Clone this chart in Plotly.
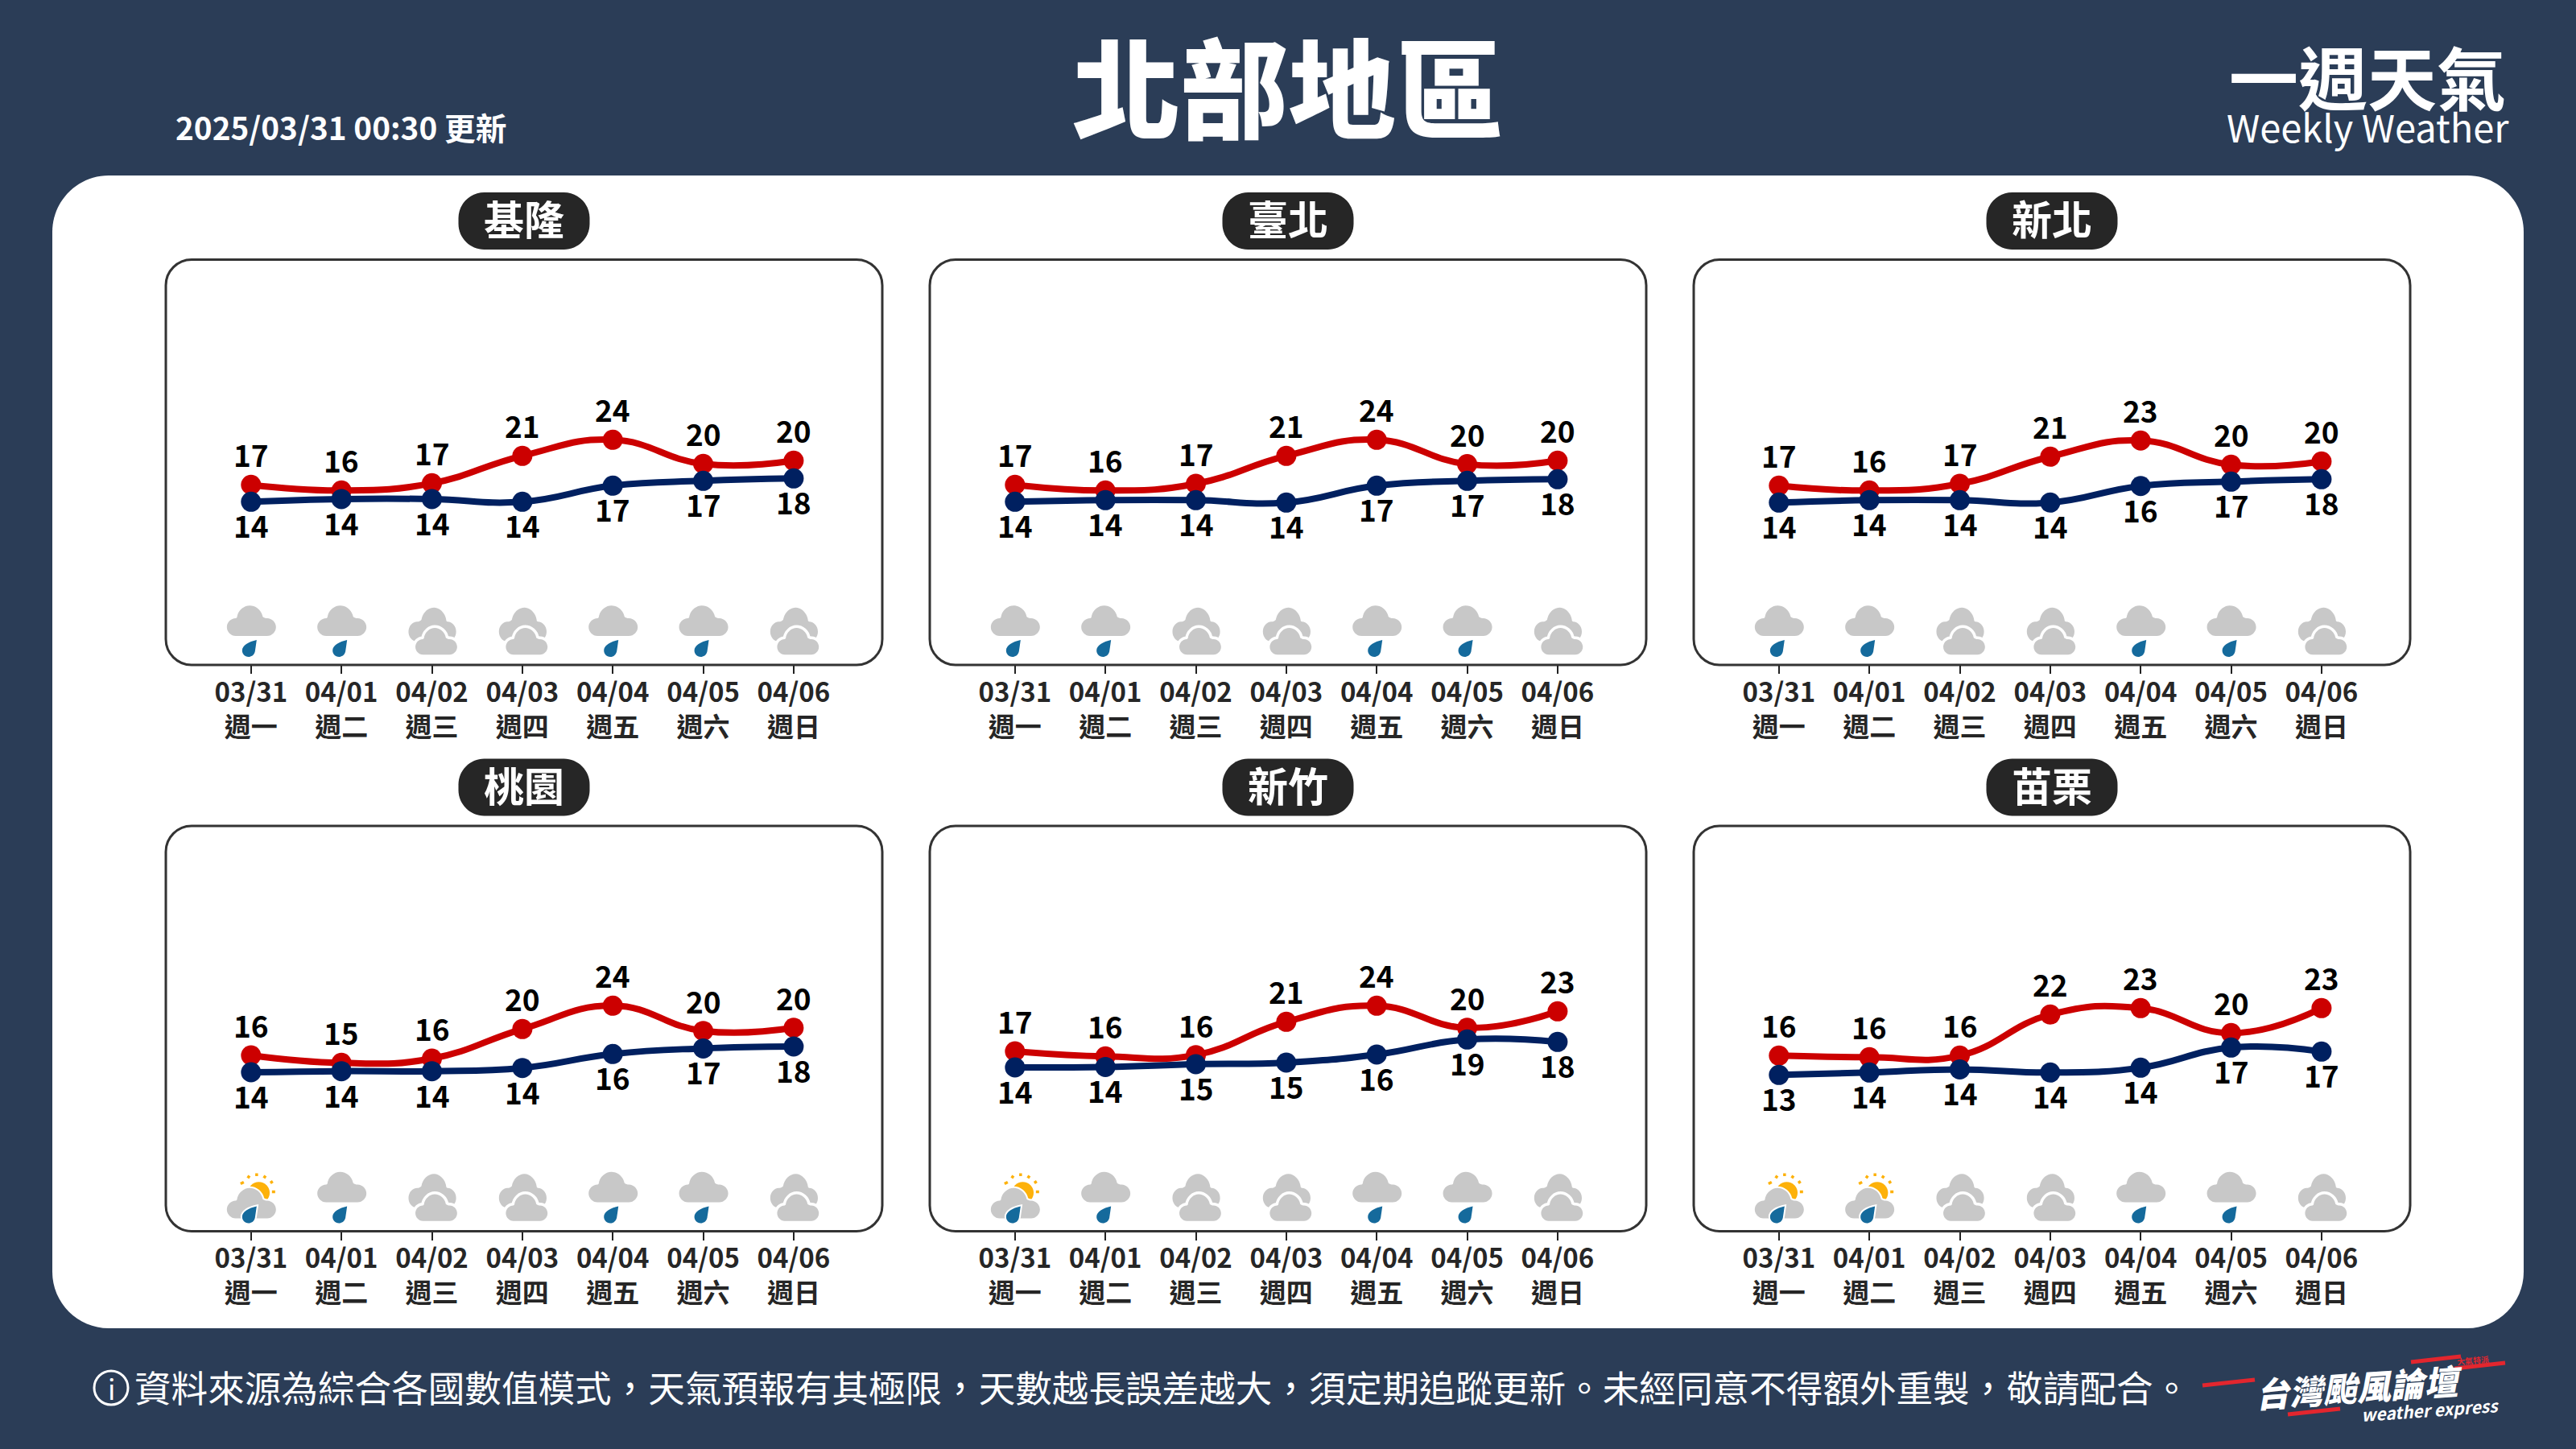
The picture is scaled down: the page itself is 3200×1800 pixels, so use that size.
import plotly.graph_objects as go

W, H = 3200, 1800
FONT = "Noto Sans CJK TC"

# ---------- data ----------
dates = ["03/31", "04/01", "04/02", "04/03", "04/04", "04/05", "04/06"]
weekdays = ["週一", "週二", "週三", "週四", "週五", "週六", "週日"]
regions = ["基隆", "臺北", "新北", "桃園", "新竹", "苗栗"]

high_keelung = [16.68, 15.81, 16.92, 21.12, 23.59, 19.89, 20.38]
low_keelung = [14.08, 14.50, 14.50, 14.08, 16.55, 17.29, 17.66]
high_taipei = [16.68, 15.81, 16.84, 21.12, 23.59, 19.85, 20.38]
low_taipei = [14.08, 14.33, 14.33, 13.96, 16.55, 17.29, 17.54]
high_newtaipei = [16.55, 15.81, 16.84, 21.00, 23.47, 19.76, 20.26]
low_newtaipei = [13.96, 14.33, 14.33, 13.96, 16.50, 17.17, 17.54]
high_taoyuan = [16.22, 15.07, 15.73, 20.26, 23.84, 19.97, 20.45]
low_taoyuan = [13.63, 13.80, 13.80, 14.29, 16.43, 17.29, 17.58]
high_hsinchu = [16.84, 16.06, 16.27, 21.37, 23.84, 20.45, 22.97]
low_hsinchu = [14.37, 14.45, 14.87, 15.11, 16.35, 18.65, 18.28]
high_miaoli = [16.18, 15.94, 16.18, 22.48, 23.47, 19.64, 23.47]
low_miaoli = [13.22, 13.59, 14.08, 13.59, 14.33, 17.42, 16.80]

highs = [high_keelung, high_taipei, high_newtaipei, high_taoyuan, high_hsinchu, high_miaoli]
lows = [low_keelung, low_taipei, low_newtaipei, low_taoyuan, low_hsinchu, low_miaoli]

# R: rain cloud, O: overcast, S: sun with cloud and rain
icons = ["RROORRO", "RROORRO", "RROORRO", "SROORRO", "SROORRO", "SSOORRO"]

COMMA = "\uff0c"
footer_text = COMMA.join(["資料來源為綜合各國數值模式", "天氣預報有其極限", "天數越長誤差越大",
                          "須定期追蹤更新。未經同意不得額外重製", "敬請配合。"])

# ---------- colours ----------
BG = "#2b3d57"
RED = "#cc0000"
NAVY = "#002060"
GREY = "#c8c8c8"
DROP = "#156a9c"
SUN = "#fdb10a"
DARK = "#262626"

# ---------- layout geometry in page pixels ----------
PANEL_X = [(206, 1096), (1155, 2045), (2104, 2994)]
PANEL_Y = [(322.5, 826), (1026, 1529.5)]
Y_MIN = [-10.94, -10.75]
PX_PER_DEG = 8.1
X_LEFT, X_RIGHT = -0.942, 6.98


def px(x):
    return x / W


def py(y):
    return 1 - y / H


def rrect(x0, y0, x1, y1, r):
    k = r * 0.45
    pts = [
        ("M", [(x0 + r, y0)]),
        ("L", [(x1 - r, y0)]),
        ("C", [(x1 - k, y0), (x1, y0 + k), (x1, y0 + r)]),
        ("L", [(x1, y1 - r)]),
        ("C", [(x1, y1 - k), (x1 - k, y1), (x1 - r, y1)]),
        ("L", [(x0 + r, y1)]),
        ("C", [(x0 + k, y1), (x0, y1 - k), (x0, y1 - r)]),
        ("L", [(x0, y0 + r)]),
        ("C", [(x0, y0 + k), (x0 + k, y0), (x0 + r, y0)]),
    ]
    s = ""
    for c, p in pts:
        s += c + " ".join(f"{px(a):.6f},{py(b):.6f}" for a, b in p) + " "
    return s + "Z"


def paper_shape(path, fill=None, line=None, lw=0):
    return dict(type="path", path=path, xref="paper", yref="paper", layer="below",
                fillcolor=fill or "rgba(0,0,0,0)",
                line=dict(color=line or "rgba(0,0,0,0)", width=lw))


def path_from(segments, dx=0.0, dy=0.0, sx=1.0, sy=1.0, close=True):
    s = ""
    for c, pts in segments:
        s += c + " ".join(f"{dx + sx * a:.2f},{dy + sy * b:.2f}" for a, b in pts) + " "
    return s + ("Z" if close else "")


# icon outlines, pixels relative to (tick, axis line), y up
CLOUD = [
    ("M", [(-19, 0)]),
    ("C", [(-25, 0), (-30, 5), (-30, 11)]),
    ("C", [(-30, 17), (-25, 22), (-19, 22)]),
    ("C", [(-18.5, 22), (-18, 22.5), (-17.5, 23)]),
    ("C", [(-16.5, 31.5), (-9, 37.7), (-1.7, 37.7)]),
    ("C", [(6, 37.7), (13, 32), (14.5, 24)]),
    ("C", [(16, 22.5), (18, 22), (20, 22)]),
    ("C", [(26, 22), (31, 17), (31, 11)]),
    ("C", [(31, 5), (26, 0), (20, 0)]),
]
TEAR = [
    ("M", [(7, 31)]),
    ("C", [(6, 24), (5.5, 20), (5, 17)]),
    ("C", [(4, 12), (0, 10), (-3, 10)]),
    ("C", [(-8, 10), (-11, 14), (-11, 18)]),
    ("C", [(-11, 24), (-3, 29), (7, 31)]),
]
DISC = [
    ("M", [(-1, 0)]),
    ("C", [(-1, 0.55), (-0.55, 1), (0, 1)]),
    ("C", [(0.55, 1), (1, 0.55), (1, 0)]),
    ("C", [(1, -0.55), (0.55, -1), (0, -1)]),
    ("C", [(-0.55, -1), (-1, -0.55), (-1, 0)]),
]
RAYS = [((-13, 59), (-9, 61)), ((-4, 66), (-2, 69)), ((7, 68.5), (7, 72)),
        ((16, 66), (18, 69)), ((24, 60), (27, 62)), ((26, 49), (30, 49))]


def icon_shapes(kind, i, xref, yref, ymin):
    base = dict(type="path", xref=xref, yref=yref, xsizemode="pixel", ysizemode="pixel",
                xanchor=i, yanchor=ymin, layer="above")

    def s(path, fill, line=None, lw=0):
        return dict(base, path=path, fillcolor=fill,
                    line=dict(color=line or "rgba(0,0,0,0)", width=lw))

    out = []
    if kind == "R":
        out.append(s(path_from(CLOUD, 0, 36), GREY))
        out.append(s(path_from(TEAR, 0, 0), DROP))
    elif kind == "O":
        out.append(s(path_from(CLOUD, 1, 29, -0.97, 1.12), GREY))
        front = path_from(CLOUD, 5, 12.7, 0.85, 0.88)
        out.append(s(front, "#ffffff", "#ffffff", 7))
        out.append(s(front, GREY))
    else:
        out.append(s(path_from(DISC, 9.7, 47.7, 13.5, 13.5), SUN))
        for a, b in RAYS:
            out.append(s(path_from([("M", [a]), ("L", [b])], close=False), "rgba(0,0,0,0)", SUN, 3.5))
        cloud = path_from(CLOUD, 0, 16)
        tear = path_from(TEAR, 0, 0)
        out.append(s(cloud, "#ffffff", "#ffffff", 4))
        out.append(s(cloud, GREY))
        out.append(s(tear, "#ffffff", "#ffffff", 4))
        out.append(s(tear, DROP))
    return out


fig = go.Figure()
shapes, annotations, axes = [], [], {}

shapes.append(paper_shape(rrect(65, 218, 3135, 1650, 70), fill="#ffffff"))


def text(x, y, t, size, color="#ffffff", weight=400, xa="center", angle=0, style="normal", ya="middle"):
    annotations.append(dict(x=px(x), y=py(y), xref="paper", yref="paper", text=t, showarrow=False,
                            xanchor=xa, yanchor=ya, textangle=angle,
                            font=dict(family=FONT, size=size, color=color, weight=weight, style=style)))


tick_labels = [f"{d}<br>{w}" for d, w in zip(dates, weekdays)]

for idx, name in enumerate(regions):
    col, row = idx % 3, idx // 3
    (x0, x1), (y0, y1) = PANEL_X[col], PANEL_Y[row]
    n = "" if idx == 0 else str(idx + 1)
    xref, yref = "x" + n, "y" + n
    ymin = Y_MIN[row]
    ymax = ymin + (y1 - y0) / PX_PER_DEG
    axes["xaxis" + n] = dict(domain=[px(x0), px(x1)], anchor=yref, range=[X_LEFT, X_RIGHT],
                             tickmode="array", tickvals=list(range(7)), ticktext=tick_labels,
                             ticks="outside", ticklen=10, tickwidth=2, tickcolor="#222222",
                             showgrid=False, zeroline=False, showline=False,
                             ticklabelstandoff=-5,
                             tickfont=dict(family=FONT, size=33, color=DARK, weight=700))
    axes["yaxis" + n] = dict(domain=[py(y1), py(y0)], anchor=xref, range=[ymin, ymax], visible=False)

    shapes.append(paper_shape(rrect(x0, y0, x1, y1, 32), line="#333333", lw=3))
    cx = (x0 + x1) / 2
    cy = y0 - 48
    shapes.append(paper_shape(rrect(cx - 81.5, cy - 35.5, cx + 81.5, cy + 35.5, 32), fill=DARK))
    text(cx, cy - 4, name, 50, weight=700)

    xs = list(range(7))
    for vals, color, yshift in ((highs[idx], RED, 38), (lows[idx], NAVY, -29)):
        fig.add_trace(go.Scatter(x=xs, y=vals, xaxis=xref, yaxis=yref, mode="lines+markers",
                                 line=dict(color=color, width=8, shape="spline", smoothing=1.3),
                                 marker=dict(color=color, size=25), showlegend=False,
                                 hoverinfo="skip"))
        for i, v in zip(xs, vals):
            annotations.append(dict(x=i, y=v, xref=xref, yref=yref, text=str(round(v)), showarrow=False,
                                    yshift=yshift, xanchor="center", yanchor="middle",
                                    font=dict(family=FONT, size=37, color="#000000", weight=700)))
    for i in xs:
        shapes.extend(icon_shapes(icons[idx][i], i, xref, yref, ymin))

# header
text(1600, 104, "北部地區", 134, weight=900)
text(216, 157, "2025/03/31 00:30 更新", 38.7, weight=700, xa="left")
text(2941, 94, "一週天氣", 86, weight=700)
text(2941, 157, "Weekly Weather", 47)

# footer
shapes.append(dict(type="circle", xref="paper", yref="paper", layer="below",
                   x0=px(117), x1=px(159), y0=py(1745), y1=py(1703),
                   line=dict(color="#ffffff", width=3), fillcolor="rgba(0,0,0,0)"))
text(138, 1724, "i", 34)
text(165, 1722, footer_text, 45.6, xa="left")

# logo
for a, b, c, d in [(2736, 1721, 2801, 1714), (2995, 1692, 3057, 1685),
                   (3049, 1700, 3112, 1693), (2842, 1757, 2907, 1750)]:
    shapes.append(dict(type="path", xref="paper", yref="paper", layer="above",
                       path=f"M{px(a):.6f},{py(b):.6f} L{px(c):.6f},{py(d):.6f}",
                       line=dict(color="#e3262e", width=5)))
text(2930, 1721, "台灣颱風論壇", 42, weight=900, angle=-4, style="italic")
text(3019, 1751, "weather express", 21, weight=700, angle=-4, style="italic")
text(3072, 1689, "大氣特派", 10, color="#e3262e", weight=700, angle=-4)

fig.update_layout(width=W, height=H, margin=dict(l=0, r=0, t=0, b=0, autoexpand=False),
                  paper_bgcolor=BG, plot_bgcolor="rgba(0,0,0,0)", showlegend=False,
                  shapes=shapes, annotations=annotations, **axes)

fig.write_html("out.html", config=dict(displayModeBar=False),
               post_script="document.body.style.margin='0';document.body.style.overflow='hidden';")
